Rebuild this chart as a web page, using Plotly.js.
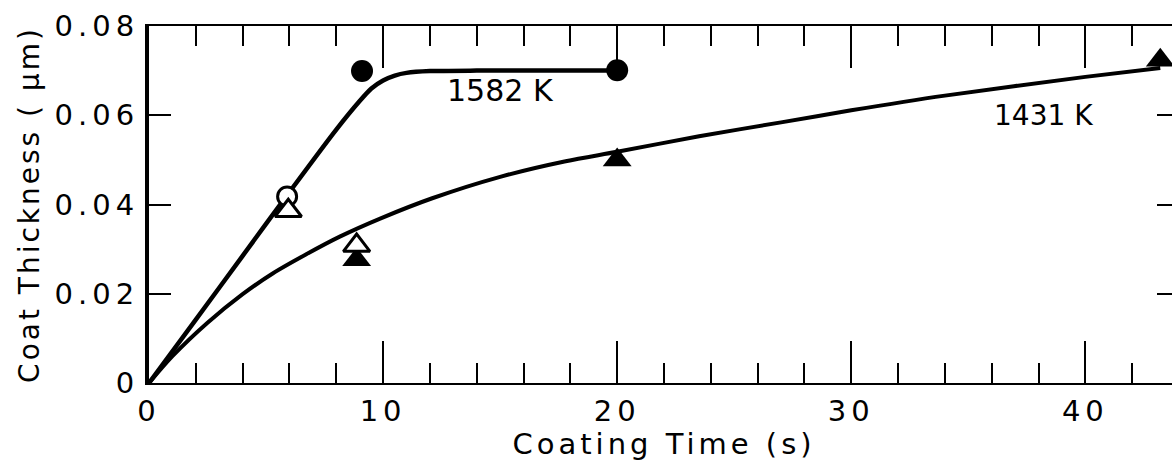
<!DOCTYPE html>
<html>
<head>
<meta charset="utf-8">
<script src="https://cdn.plot.ly/plotly-3.0.1.min.js"></script>
<style>
  html, body { margin: 0; padding: 0; overflow: hidden; background: #fff; }
  #chart { width: 1180px; height: 461px; }
  .ytick text, .xtick text { letter-spacing: 5px; }
  .g-xtitle text { letter-spacing: 4px; }
  .g-ytitle text { letter-spacing: 3px; }
</style>
</head>
<body>
<div id="chart"></div>
<script>
// ---- data ----
const openCircleTime = [5.9];
const openCircleThick = [0.0418];
const filledCircleTime = [9.1, 20.0];
const filledCircleThick = [0.0699, 0.0701];
const openTriTime = [5.95, 8.87];
const openTriThick = [0.0386, 0.0308];
const filledTriTime = [8.87, 20.0, 43.2];
const filledTriThick = [0.0276, 0.0500, 0.0723];

const fitTime1582 = [0, 2, 4, 6, 8, 9, 9.5, 10, 10.5, 11, 12, 14, 20];
const fitThick1582 = [0, 0.0142, 0.0285, 0.0428, 0.0568, 0.0632, 0.0660, 0.0678, 0.0689, 0.0695, 0.0699, 0.0700, 0.0700];
const fitTime1431 = [0, 1, 2.5, 4, 5.3, 6.7, 8.15, 9.9, 12.1, 15, 17.8, 20, 23.5, 27, 30, 34, 40, 43.2];
const fitThick1431 = [0, 0.0060, 0.0135, 0.0199, 0.0246, 0.0288, 0.0328, 0.0369, 0.0414, 0.0462, 0.0497, 0.0518, 0.0553, 0.0584, 0.0611, 0.0644, 0.0686, 0.0706];

const curveLabels = ["1582 K", "1431 K"];
const xTickVals = [0, 10, 20, 30, 40];
const yTickVals = [0, 0.02, 0.04, 0.06, 0.08];
const yTickText = ["0", "0.02", "0.04", "0.06", "0.08"];

const FONT = "DejaVu Sans, sans-serif";

const traces = [
  { x: fitTime1582, y: fitThick1582, mode: "lines", line: { color: "#000", width: 4.5, shape: "spline", smoothing: 0.6 }, hoverinfo: "skip" },
  { x: fitTime1431, y: fitThick1431, mode: "lines", line: { color: "#000", width: 4, shape: "spline", smoothing: 0.8 }, hoverinfo: "skip" },
  { x: openCircleTime, y: openCircleThick, mode: "markers", marker: { symbol: "circle", size: 19, color: "#fff", line: { color: "#000", width: 3 } } },
  { x: filledCircleTime, y: filledCircleThick, mode: "markers", marker: { symbol: "circle", size: 22, color: "#000", line: { width: 0 } } },
  { x: filledTriTime, y: filledTriThick, mode: "markers", marker: { symbol: "triangle-up", size: 25, color: "#000", line: { width: 0 } } },
  { x: openTriTime, y: openTriThick, mode: "markers", marker: { symbol: "triangle-up", size: 23, color: "#fff", line: { color: "#000", width: 3 } } }
];

const layout = {
  width: 1180, height: 461,
  margin: { l: 149, r: 1, t: 26, b: 78 },
  paper_bgcolor: "#fff", plot_bgcolor: "#fff",
  showlegend: false,
  font: { family: FONT, color: "#000" },
  xaxis: {
    range: [0, 44], showgrid: false, zeroline: false,
    showline: true, linecolor: "#000", linewidth: 2, mirror: "ticks",
    ticks: "inside", ticklen: 42, tickwidth: 2, tickcolor: "#000",
    tickmode: "array", tickvals: xTickVals,
    minor: { dtick: 2, ticks: "inside", ticklen: 20, tickwidth: 2, tickcolor: "#000", showgrid: false },
    tickfont: { family: FONT, size: 29, color: "#000" },
    ticklabelstandoff: 1,
    title: { text: "Coating Time (s)", font: { family: FONT, size: 29, color: "#000" }, standoff: 4 }
  },
  yaxis: {
    range: [0, 0.08], showgrid: false, zeroline: false,
    showline: true, linecolor: "#000", linewidth: 4, mirror: "ticks",
    ticks: "inside", ticklen: 22, tickwidth: 2, tickcolor: "#000",
    tickmode: "array", tickvals: yTickVals, ticktext: yTickText,
    tickfont: { family: FONT, size: 29, color: "#000" },
    ticklabelstandoff: 0,
    title: { text: "Coat Thickness ( μm)", font: { family: FONT, size: 28, color: "#000" }, standoff: 8 }
  },
  annotations: [
    { x: 15.03, y: 0.0655, xref: "x", yref: "y", text: curveLabels[0], showarrow: false, font: { family: FONT, size: 30, color: "#000" } },
    { x: 38.2, y: 0.0599, xref: "x", yref: "y", text: curveLabels[1], showarrow: false, font: { family: FONT, size: 28, color: "#000" } }
  ]
};

Plotly.newPlot("chart", traces, layout, { staticPlot: true, displayModeBar: false });
</script>
</body>
</html>
